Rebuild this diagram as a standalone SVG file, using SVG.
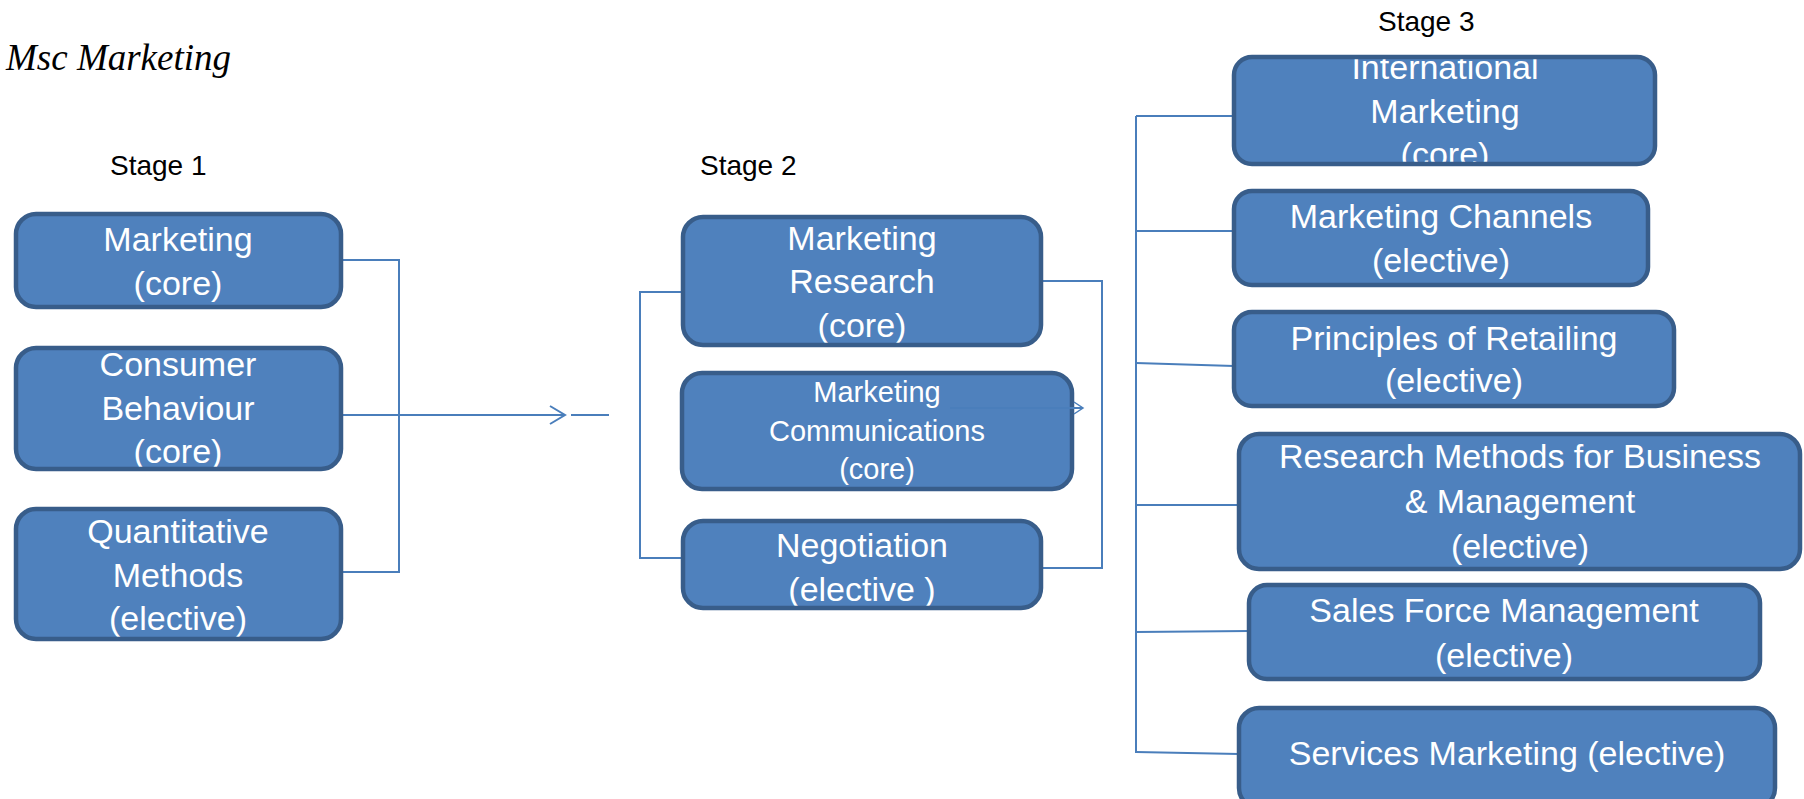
<svg xmlns="http://www.w3.org/2000/svg" width="1804" height="799" viewBox="0 0 1804 799">
<style>
.box{fill:#4f81bd;stroke:none}
.edge{fill:none;stroke:#385d8a;stroke-width:4.5}
.t{font-family:"Liberation Sans",Arial,sans-serif;font-size:34px;fill:#ffffff;text-anchor:middle}
.ts{font-size:29px}
.stage{font-family:"Liberation Sans",Arial,sans-serif;font-size:28px;fill:#000000}
.title{font-family:"Liberation Serif","Times New Roman",serif;font-style:italic;font-size:37px;fill:#000000}
.c{fill:none;stroke:#4a7ebb;stroke-width:2}
</style>
<defs>
<marker id="chev" markerWidth="18" markerHeight="20" refX="16" refY="10" markerUnits="userSpaceOnUse" orient="auto">
<path d="M1,1 L16,10 L1,19" fill="none" stroke="#4a7ebb" stroke-width="2"/>
</marker>
<marker id="chevs" markerWidth="12" markerHeight="14" refX="10" refY="7" markerUnits="userSpaceOnUse" orient="auto">
<path d="M1,1 L10,7 L1,13" fill="none" stroke="#4a7ebb" stroke-width="1.5"/>
</marker>
</defs>
<rect width="1804" height="799" fill="#ffffff"/>
<text class="title" x="6" y="70">Msc Marketing</text>
<text class="stage" x="110" y="175">Stage 1</text>
<text class="stage" x="700" y="175">Stage 2</text>
<text class="stage" x="1378" y="31">Stage 3</text>

<g id="connectors">
<polyline class="c" points="343,260 399,260 399,572 343,572"/>
<line class="c" x1="343" y1="415" x2="565" y2="415" marker-end="url(#chev)"/>
<line class="c" x1="571" y1="415" x2="609" y2="415"/>
<polyline class="c" points="683,292 640,292 640,558 683,558"/>
<polyline class="c" points="1041,281 1102,281 1102,568 1041,568"/>
<line class="c" x1="1136" y1="116" x2="1136" y2="753"/>
<line class="c" x1="1136" y1="116" x2="1234" y2="116"/>
<line class="c" x1="1136" y1="231" x2="1234" y2="231"/>
<line class="c" x1="1136" y1="363" x2="1234" y2="366"/>
<line class="c" x1="1136" y1="505" x2="1239" y2="505"/>
<line class="c" x1="1136" y1="632" x2="1249" y2="631"/>
<line class="c" x1="1136" y1="752" x2="1239" y2="754"/>
</g>

<g id="n-marketing">
<rect class="box" x="16" y="214" width="325" height="93" rx="20"/>
<text class="t" x="178" y="251">Marketing</text>
<text class="t" x="178" y="295">(core)</text>
<rect class="edge" x="16" y="214" width="325" height="93" rx="20"/>
</g>
<g id="n-consumer">
<rect class="box" x="16" y="348" width="325" height="121" rx="20"/>
<text class="t" x="178" y="376">Consumer</text>
<text class="t" x="178" y="420">Behaviour</text>
<text class="t" x="178" y="463">(core)</text>
<rect class="edge" x="16" y="348" width="325" height="121" rx="20"/>
</g>
<g id="n-quant">
<rect class="box" x="16" y="509" width="325" height="130" rx="20"/>
<text class="t" x="178" y="543">Quantitative</text>
<text class="t" x="178" y="587">Methods</text>
<text class="t" x="178" y="630">(elective)</text>
<rect class="edge" x="16" y="509" width="325" height="130" rx="20"/>
</g>

<g id="n-mresearch">
<rect class="box" x="683" y="217" width="358" height="128" rx="20"/>
<text class="t" x="862" y="250">Marketing</text>
<text class="t" x="862" y="293">Research</text>
<text class="t" x="862" y="337">(core)</text>
<rect class="edge" x="683" y="217" width="358" height="128" rx="20"/>
</g>
<g id="n-mcomm">
<rect class="box" x="682" y="373" width="390" height="116" rx="20"/>
<text class="t ts" x="877" y="402">Marketing</text>
<text class="t ts" x="877" y="441">Communications</text>
<text class="t ts" x="877" y="479">(core)</text>
<rect class="edge" x="682" y="373" width="390" height="116" rx="20"/>
<line class="c" x1="950" y1="408" x2="1083" y2="408" marker-end="url(#chevs)"/>
</g>
<g id="n-negotiation">
<rect class="box" x="683" y="521" width="358" height="87" rx="20"/>
<text class="t" x="862" y="557">Negotiation</text>
<text class="t" x="862" y="601">(elective )</text>
<rect class="edge" x="683" y="521" width="358" height="87" rx="20"/>
</g>

<g id="n-intl">
<rect class="box" x="1234" y="57" width="421" height="107" rx="18"/>
<text class="t" x="1445" y="79">International</text>
<text class="t" x="1445" y="123">Marketing</text>
<text class="t" x="1445" y="166">(core)</text>
<rect class="edge" x="1234" y="57" width="421" height="107" rx="18"/>
</g>
<g id="n-channels">
<rect class="box" x="1234" y="191" width="414" height="94" rx="18"/>
<text class="t" x="1441" y="228">Marketing Channels</text>
<text class="t" x="1441" y="272">(elective)</text>
<rect class="edge" x="1234" y="191" width="414" height="94" rx="18"/>
</g>
<g id="n-retailing">
<rect class="box" x="1234" y="312" width="440" height="94" rx="18"/>
<text class="t" x="1454" y="350">Principles of Retailing</text>
<text class="t" x="1454" y="392">(elective)</text>
<rect class="edge" x="1234" y="312" width="440" height="94" rx="18"/>
</g>
<g id="n-rmethods">
<rect class="box" x="1239" y="434" width="561" height="135" rx="20"/>
<text class="t" x="1520" y="468">Research Methods for Business</text>
<text class="t" x="1520" y="513">&amp; Management</text>
<text class="t" x="1520" y="558">(elective)</text>
<rect class="edge" x="1239" y="434" width="561" height="135" rx="20"/>
</g>
<g id="n-salesforce">
<rect class="box" x="1249" y="585" width="511" height="94" rx="18"/>
<text class="t" x="1504" y="622">Sales Force Management</text>
<text class="t" x="1504" y="667">(elective)</text>
<rect class="edge" x="1249" y="585" width="511" height="94" rx="18"/>
</g>
<g id="n-services">
<rect class="box" x="1239" y="708" width="536" height="100" rx="20"/>
<text class="t" x="1507" y="765">Services Marketing (elective)</text>
<rect class="edge" x="1239" y="708" width="536" height="100" rx="20"/>
</g>
</svg>
